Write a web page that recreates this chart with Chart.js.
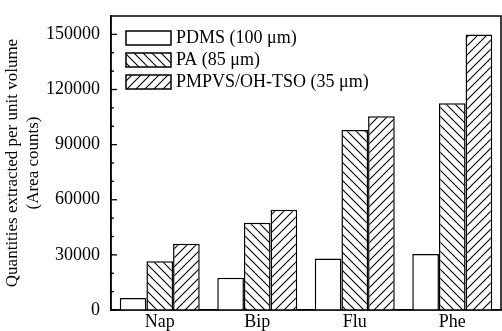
<!DOCTYPE html>
<html><head><meta charset="utf-8">
<script src="https://cdn.jsdelivr.net/npm/chart.js@4"></script>
<style>html,body{margin:0;padding:0;background:#fff}#wrap{width:502px;height:331px;position:relative}</style>
</head><body><div id="wrap"><canvas id="c"></canvas></div>
<script>
const categories = ['Nap', 'Bip', 'Flu', 'Phe'];
const seriesNames = ['PDMS (100 μm)', 'PA (85 μm)', 'PMPVS/OH-TSO (35 μm)'];
const pdmsValues = [6500, 17500, 28000, 30500];
const paValues = [26500, 47500, 98000, 112500];
const pmpvsValues = [36000, 54500, 105500, 150000];
const yTickLabels = [0, 30000, 60000, 90000, 120000, 150000];
const yTitle = ['Quantities extracted per unit volume', '(Area counts)'];

const FONT = 'Liberation Serif, Times New Roman, serif';

function hatch(dir) {
  const s = 9;
  const c = document.createElement('canvas');
  c.width = s; c.height = s;
  const g = c.getContext('2d');
  g.fillStyle = '#fff'; g.fillRect(0, 0, s, s);
  g.strokeStyle = '#000'; g.lineWidth = 1.1;
  g.beginPath();
  if (dir === '/') {
    g.moveTo(0, s); g.lineTo(s, 0);
    g.moveTo(-1, 1); g.lineTo(1, -1);
    g.moveTo(s - 1, s + 1); g.lineTo(s + 1, s - 1);
  } else {
    g.moveTo(0, 0); g.lineTo(s, s);
    g.moveTo(-1, s - 1); g.lineTo(1, s + 1);
    g.moveTo(s - 1, -1); g.lineTo(s + 1, 1);
  }
  g.stroke();
  return g.createPattern(c, 'repeat');
}

const framePlugin = {
  id: 'frame',
  afterDraw(chart) {
    const { ctx, chartArea: a, scales } = chart;
    ctx.save();
    ctx.strokeStyle = '#000';
    ctx.lineWidth = 1.5;
    ctx.strokeRect(a.left, a.top, a.right - a.left, a.bottom - a.top);
    // inward ticks on y axis
    const y = scales.y;
    ctx.lineWidth = 1.3;
    y.ticks.forEach(t => {
      if (t.value >= y.max) return;
      const py = y.getPixelForValue(t.value);
      const len = yTickLabels.includes(t.value) ? 6 : 3;
      ctx.beginPath();
      ctx.moveTo(a.left, py);
      ctx.lineTo(a.left + len, py);
      ctx.stroke();
    });
    // legend inside the plot
    const lx = a.left + 15, ly = a.top + 15, step = 22;
    ctx.font = '18px ' + FONT;
    ctx.textBaseline = 'middle';
    ctx.textAlign = 'left';
    chart.data.datasets.forEach((ds, i) => {
      const by = ly + i * step;
      ctx.fillStyle = ds.backgroundColor;
      ctx.fillRect(lx, by, 45, 14);
      ctx.lineWidth = 1.5;
      ctx.strokeStyle = '#000';
      ctx.strokeRect(lx, by, 45, 14);
      ctx.fillStyle = '#000';
      ctx.fillText(ds.label, lx + 50, by + 7.5);
    });
    ctx.restore();
  }
};

new Chart(document.getElementById('c'), {
  type: 'bar',
  data: {
    labels: categories,
    datasets: [
      { label: seriesNames[0], data: pdmsValues, backgroundColor: '#fff', borderColor: '#000', borderWidth: 1.5 },
      { label: seriesNames[1], data: paValues, backgroundColor: hatch('\\'), borderColor: '#000', borderWidth: 1.5 },
      { label: seriesNames[2], data: pmpvsValues, backgroundColor: hatch('/'), borderColor: '#000', borderWidth: 1.5 }
    ]
  },
  options: {
    responsive: true,
    maintainAspectRatio: false,
    animation: false,
    devicePixelRatio: 1,
    layout: { padding: { top: 16, right: 1, left: 0, bottom: 0 } },
    datasets: { bar: { categoryPercentage: 0.82, barPercentage: 1 } },
    plugins: {
      legend: { display: false },
      tooltip: { enabled: false }
    },
    scales: {
      x: {
        grid: { display: false },
        border: { display: true, color: '#000', width: 1.5 },
        ticks: { color: '#000', font: { family: FONT, size: 18 }, padding: -7 },
        afterFit(s) { s.height = 21; s.paddingLeft = 0; s.paddingRight = 0; }
      },
      y: {
        min: 0, max: 160000,
        grid: { display: false, drawTicks: false },
        border: { display: true, color: '#000', width: 1.5 },
        ticks: {
          stepSize: 10000, autoSkip: false, padding: 11,
          color: '#000', font: { family: FONT, size: 18 },
          callback: v => yTickLabels.includes(v) ? String(v) : ''
        },
        title: {
          display: true, text: yTitle, color: '#000',
          font: { family: FONT, size: 17, lineHeight: 1.25 },
          padding: { top: 2, bottom: 0 }
        },
        afterFit(s) { s.width = 111; s.paddingTop = 0; s.paddingBottom = 0; }
      }
    }
  },
  plugins: [framePlugin]
});
</script>
</body></html>
